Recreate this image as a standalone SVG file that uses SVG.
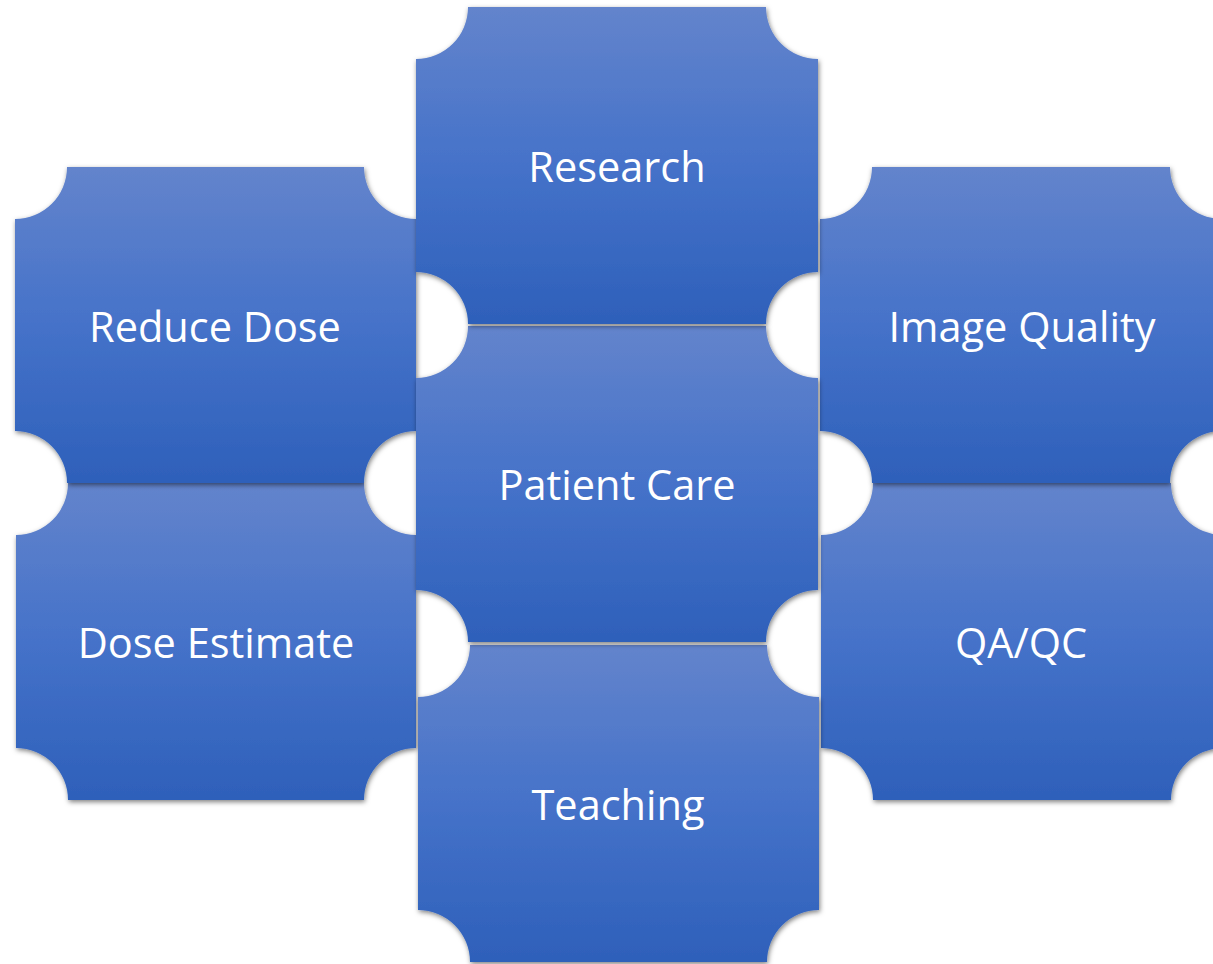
<svg xmlns="http://www.w3.org/2000/svg" width="1213" height="964" viewBox="0 0 1213 964">
<defs>
<linearGradient id="fill" x1="0" y1="0" x2="0" y2="1">
<stop offset="0" stop-color="#6384cc"/>
<stop offset="0.5" stop-color="#4572c9"/>
<stop offset="1" stop-color="#2e60ba"/>
</linearGradient>
<filter id="shadow" x="-5%" y="-5%" width="110%" height="110%">
<feDropShadow dx="1" dy="2" stdDeviation="2.5" flood-color="#000" flood-opacity="0.5"/>
</filter>
<style>
.plaque{fill:url(#fill);filter:url(#shadow);}
.label{font-family:"Open Sans","Liberation Sans",sans-serif;font-size:41.5px;fill:#ffffff;text-anchor:middle;}
</style>
</defs>
<rect width="1213" height="964" fill="#ffffff"/>
<g id="connectors"/>
<g id="dose-estimate">
<path class="plaque" d="M68,483 H364 A52,52 0 0 0 416,535 V748 A52,52 0 0 0 364,800 H68 A52,52 0 0 0 16,748 V535 A52,52 0 0 0 68,483 Z"/>
<text class="label" x="216" y="658">Dose Estimate</text>
</g>
<g id="reduce-dose">
<path class="plaque" d="M67,167 H364 A52,52 0 0 0 416,219 V431 A52,52 0 0 0 364,483 H67 A52,52 0 0 0 15,431 V219 A52,52 0 0 0 67,167 Z"/>
<text class="label" x="215" y="342">Reduce Dose</text>
</g>
<g id="qa-qc">
<path class="plaque" d="M873,483 H1171 A52,52 0 0 0 1223,535 V748 A52,52 0 0 0 1171,800 H873 A52,52 0 0 0 821,748 V535 A52,52 0 0 0 873,483 Z"/>
<text class="label" x="1021" y="658">QA/QC</text>
</g>
<g id="image-quality">
<path class="plaque" d="M872,167 H1170 A52,52 0 0 0 1222,219 V431 A52,52 0 0 0 1170,483 H872 A52,52 0 0 0 820,431 V219 A52,52 0 0 0 872,167 Z"/>
<text class="label" x="1022" y="342">Image Quality</text>
</g>
<g id="teaching">
<path class="plaque" d="M470,645 H767 A52,52 0 0 0 819,697 V910 A52,52 0 0 0 767,962 H470 A52,52 0 0 0 418,910 V697 A52,52 0 0 0 470,645 Z"/>
<text class="label" x="618" y="820">Teaching</text>
</g>
<g id="patient-care">
<path class="plaque" d="M468,326 H766 A52,52 0 0 0 818,378 V590 A52,52 0 0 0 766,642 H468 A52,52 0 0 0 416,590 V378 A52,52 0 0 0 468,326 Z"/>
<text class="label" x="617" y="500">Patient Care</text>
</g>
<g id="research">
<path class="plaque" d="M468,7 H766 A52,52 0 0 0 818,59 V272 A52,52 0 0 0 766,324 H468 A52,52 0 0 0 416,272 V59 A52,52 0 0 0 468,7 Z"/>
<text class="label" x="617" y="182">Research</text>
</g>
</svg>
